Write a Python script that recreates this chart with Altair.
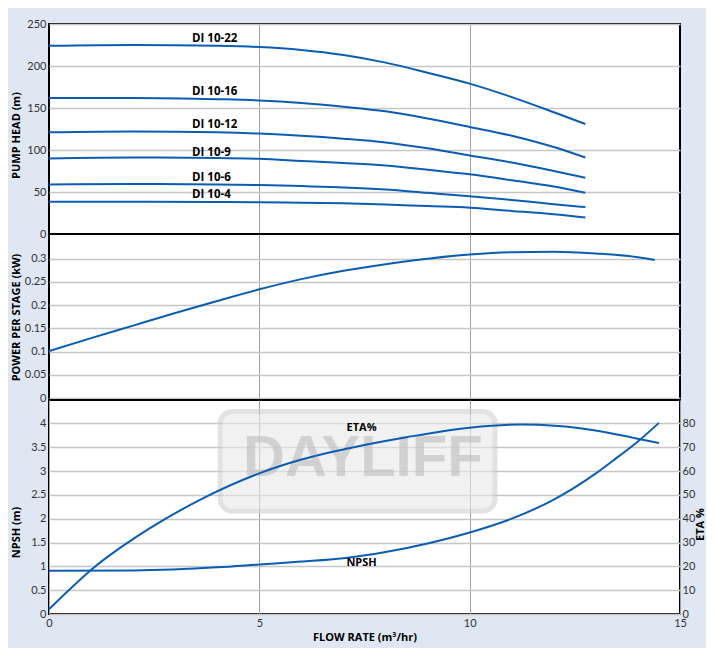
import altair as alt
import pandas as pd

BLUE = "#0b5db3"

# ---------------- data ----------------
models = ["DI 10-22", "DI 10-16", "DI 10-12", "DI 10-9", "DI 10-6", "DI 10-4"]
head_flow = [0, 2, 4, 5, 6, 7, 8, 9, 10, 11, 12, 12.75]
head_di_10_22 = [224, 225, 224, 222.5, 219, 213, 204, 192, 179, 163, 145, 131]
head_di_10_16 = [162, 162, 160.5, 159, 156, 151.5, 146, 137.5, 127.5, 117, 103.5, 91]
head_di_10_12 = [121, 122, 121, 119.5, 117, 113.5, 109, 102, 93.5, 85, 75, 67]
head_di_10_9 = [90, 91, 90.5, 89.5, 87, 84.5, 81.5, 76.5, 71, 64, 56.5, 49]
head_di_10_6 = [59, 59.5, 59, 58.3, 57, 55.5, 53, 49, 45, 40.5, 35.5, 32]
head_di_10_4 = [38.5, 38.5, 38, 37.7, 37.3, 36.5, 35.2, 33.2, 31.3, 27.5, 23.5, 19.5]
heads = [head_di_10_22, head_di_10_16, head_di_10_12, head_di_10_9, head_di_10_6, head_di_10_4]

label_flow = [3.4, 3.4, 3.4, 3.4, 3.4, 3.4]
label_head = [231.8, 169, 129.8, 96, 66.3, 46]

power_flow = [0, 1, 2, 3, 4, 5, 6, 7, 8, 9, 10, 11, 12, 13, 14, 14.4]
power_kw = [0.101, 0.129, 0.156, 0.183, 0.209, 0.234, 0.256, 0.274, 0.288, 0.300,
            0.309, 0.314, 0.315, 0.311, 0.303, 0.297]

eta_flow = [0, 1, 2.4, 3.6, 5, 6, 7.16, 8.5, 10, 11.2, 12.1, 13.1, 13.9, 14.5]
eta_pct = [2, 18.5, 36, 48, 59, 64.8, 69.7, 74.2, 78.2, 79.5, 78.9, 76.7, 73.9, 71.8]

npsh_flow = [0, 2, 4, 5, 6, 7, 8, 9, 10, 11, 12, 13, 13.5, 14, 14.5]
npsh_m = [0.906, 0.915, 0.98, 1.04, 1.10, 1.17, 1.30, 1.48, 1.71, 2.00, 2.40, 2.95, 3.28, 3.62, 4.01]

curve_labels = ["ETA%", "NPSH"]
curve_label_flow = [7.43, 7.43]
curve_label_npsh = [3.9, 1.08]

watermark_box = {"x": 4.07, "x2": 10.6, "y": 2.16, "y2": 4.25}
watermark_text = {"text": "DAYLIFF", "x": 7.46, "y": 3.25}

# ---------------- tables ----------------
head_df = pd.DataFrame(
    [{"model": m, "flow": f, "head": h} for m, hs in zip(models, heads) for f, h in zip(head_flow, hs)]
)
head_lbl_df = pd.DataFrame({"model": models, "flow": label_flow, "head": label_head})
power_df = pd.DataFrame({"flow": power_flow, "power": power_kw})
eta_df = pd.DataFrame({"flow": eta_flow, "eta": eta_pct})
npsh_df = pd.DataFrame({"flow": npsh_flow, "npsh": npsh_m})
clbl_df = pd.DataFrame({"label": curve_labels, "flow": curve_label_flow, "npsh": curve_label_npsh})
wm_df = pd.DataFrame([watermark_box])
wmt_df = pd.DataFrame([watermark_text])

W = 631
XS = alt.Scale(domain=[0, 15], nice=False, zero=False)
x_hidden = alt.Axis(labels=False, ticks=False, domain=False, title=None, values=[5, 10],
                    gridColor="#a0a0a0", gridWidth=1)
x_bottom = alt.Axis(values=[0, 5, 10, 15], title="FLOW RATE (m³/hr)", gridColor="#a0a0a0",
                    gridWidth=1, labelFlush=False, labelPadding=3, titlePadding=3)


def yaxis(title, values, title_y):
    return alt.Axis(title=title, values=values, format="~r", titleX=-28, titleY=title_y,
                    titleAngle=270, titleBaseline="bottom", titleAlign="center",
                    labelOverlap=False)


# ---------------- top panel: head ----------------
top_lines = alt.Chart(head_df).mark_line(color=BLUE, strokeWidth=2, interpolate="monotone").encode(
    x=alt.X("flow:Q", scale=XS, axis=x_hidden),
    y=alt.Y("head:Q", scale=alt.Scale(domain=[0, 250], nice=False),
            axis=yaxis("PUMP HEAD (m)", [0, 50, 100, 150, 200, 250], 111)),
    detail="model:N",
)
top_labels = alt.Chart(head_lbl_df).mark_text(
    align="left", baseline="middle", font="Open Sans", fontWeight="bold", fontSize=11.5, color="black"
).encode(x="flow:Q", y="head:Q", text="model:N")
top = alt.layer(top_lines, top_labels).properties(width=W, height=210)

# ---------------- middle panel: power ----------------
mid = alt.Chart(power_df).mark_line(color=BLUE, strokeWidth=2, interpolate="monotone").encode(
    x=alt.X("flow:Q", scale=XS, axis=x_hidden),
    y=alt.Y("power:Q", scale=alt.Scale(domain=[-0.004, 0.353], nice=False, zero=False),
            axis=yaxis("POWER PER STAGE (kW)", [0, 0.05, 0.1, 0.15, 0.2, 0.25, 0.3], 83)),
).properties(width=W, height=166)

# ---------------- bottom panel: NPSH + ETA ----------------
NS = alt.Scale(domain=[0, 4.49], nice=False)
NPSH_AXIS = yaxis("NPSH (m)", [0, 0.5, 1, 1.5, 2, 2.5, 3, 3.5, 4], 132)

wm_rect = alt.Chart(wm_df).mark_rect(
    cornerRadius=12, fill="#e9e9e9", stroke="#cfcfcf", strokeWidth=5, opacity=0.6
).encode(
    x=alt.X("x:Q", scale=XS, axis=x_bottom),
    x2="x2:Q",
    y=alt.Y("y:Q", scale=NS, axis=NPSH_AXIS),
    y2="y2:Q",
)
wm_txt = alt.Chart(wmt_df).mark_text(
    font="Liberation Sans", fontWeight="bold", fontSize=58, color="#bdbdbd", opacity=0.6,
    baseline="middle", align="center"
).encode(x=alt.X("x:Q", scale=XS, axis=x_bottom),
         y=alt.Y("y:Q", scale=NS, axis=NPSH_AXIS), text="text:N")
npsh_line = alt.Chart(npsh_df).mark_line(color=BLUE, strokeWidth=2, interpolate="monotone").encode(
    x=alt.X("flow:Q", scale=XS, axis=x_bottom),
    y=alt.Y("npsh:Q", scale=NS, axis=NPSH_AXIS),
)
c_labels = alt.Chart(clbl_df).mark_text(
    font="Open Sans", fontWeight="bold", fontSize=11, color="black", baseline="middle"
).encode(x=alt.X("flow:Q", scale=XS, axis=x_bottom),
         y=alt.Y("npsh:Q", scale=NS, axis=NPSH_AXIS), text="label:N")
left_layer = alt.layer(wm_rect, wm_txt, npsh_line, c_labels)

eta_line = alt.Chart(eta_df).mark_line(color=BLUE, strokeWidth=2, interpolate="monotone").encode(
    x=alt.X("flow:Q", scale=XS, axis=x_bottom),
    y=alt.Y("eta:Q", scale=alt.Scale(domain=[0, 89.8], nice=False),
            axis=alt.Axis(orient="right", title="ETA %", values=list(range(0, 90, 10)), grid=False,
                          titleX=25, titleY=124, titleAngle=270, titleBaseline="bottom",
                          titleAlign="center", labelPadding=2, labelOverlap=False)),
)
bot = alt.layer(left_layer, eta_line).resolve_scale(y="independent").properties(width=W, height=214)

chart = alt.vconcat(top, mid, bot, spacing=0, bounds="flush").properties(
    padding={"left": 1, "top": 9, "right": 0, "bottom": 5},
    background="#dfe7f2",
).configure_view(
    fill="white", stroke="black", strokeWidth=2
).configure_axis(
    labelFont="Lato", labelFontSize=11, labelColor="#333333", labelPadding=3,
    titleFont="Open Sans", titleFontSize=11, titleFontWeight="bold", titleColor="black",
    ticks=False, domain=False, gridColor="#c6c6c6", gridWidth=1.5,
)

chart.save("out.html", embed_options={"renderer": "svg", "actions": False})
